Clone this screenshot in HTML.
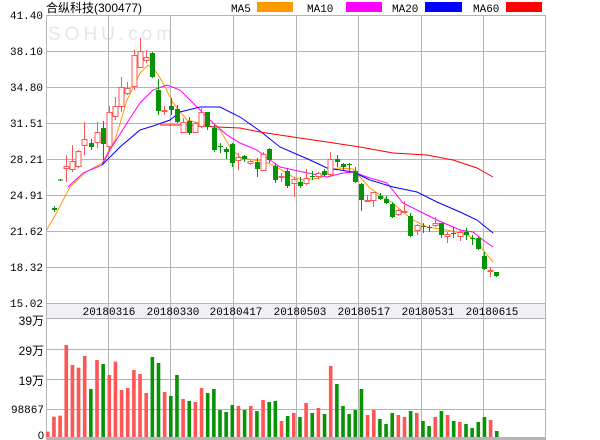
<!DOCTYPE html>
<html><head><meta charset="utf-8"><style>
body{margin:0;background:#fff;}
svg{display:block;font-family:"Liberation Sans","Noto Sans CJK SC",sans-serif;}
</style></head><body>
<svg id="s" width="600" height="440" xmlns="http://www.w3.org/2000/svg">
<rect width="600" height="440" fill="#fff"/>
<text x="28" y="40" font-size="19" fill="#e6e6e6" letter-spacing="4" font-family="Liberation Sans,sans-serif" transform="translate(20,0)">SOHU.com</text>
<rect x="46" y="303" width="500" height="15" fill="#eff1f7"/>
<g id="grid" stroke="#b4b4b4" stroke-width="1" fill="none"></g>
<g font-size="11" fill="#000" text-anchor="end" font-family="Liberation Mono,monospace">
<text x="43" y="19">41.40</text><text x="43" y="55">38.10</text><text x="43" y="91">34.80</text>
<text x="43" y="127">31.51</text><text x="43" y="163">28.21</text><text x="43" y="199">24.91</text>
<text x="43" y="235">21.62</text><text x="43" y="271">18.32</text><text x="43" y="307">15.02</text>
</g>
<g font-size="12" fill="#000" text-anchor="end">
<text x="44" y="325">39万</text><text x="44" y="355">29万</text><text x="44" y="385">19万</text>
<text x="44" y="413" font-size="11" font-family="Liberation Mono,monospace">98867</text><text x="44" y="439" font-size="11">0</text>
</g>
<g font-size="11" fill="#000" text-anchor="middle" font-family="Liberation Mono,monospace">
<text x="109" y="315">20180316</text><text x="173" y="315">20180330</text><text x="236" y="315">20180417</text>
<text x="300" y="315">20180503</text><text x="364" y="315">20180517</text><text x="428" y="315">20180531</text>
<text x="492" y="315">20180615</text>
</g>
<text x="46" y="12" font-size="12" fill="#000">合纵科技(300477)</text>
<g font-size="11" fill="#000" font-family="Liberation Mono,monospace">
<text x="231" y="12">MA5</text><rect x="257" y="2" width="36" height="10" fill="#ff9900"/>
<text x="307" y="12">MA10</text><rect x="346" y="2" width="36" height="10" fill="#ff00ff"/>
<text x="392" y="12">MA20</text><rect x="425" y="2" width="37" height="10" fill="#0000ff"/>
<text x="473" y="12">MA60</text><rect x="506" y="2" width="36" height="10" fill="#ff0000"/>
</g>
<g id="vol"></g>
<g id="ma" fill="none" stroke-width="1"></g>
<g id="k"></g>
</svg>
<script>
var NS="http://www.w3.org/2000/svg";
function el(p,t,a){var e=document.createElementNS(NS,t);for(var k in a)e.setAttribute(k,a[k]);document.getElementById(p).appendChild(e);return e;}
[15,51,87,123,159,195,231,267,303,318,349,379,409].forEach(function(y){el("grid","line",{x1:46,x2:546,y1:y+.5,y2:y+.5});});
[46,108,170,233,296,358,421,483,545].forEach(function(x){el("grid","line",{x1:x+.5,x2:x+.5,y1:15,y2:437});});
el("grid","rect",{x:46,y:437,width:500,height:3,fill:"#b4b4b4",stroke:"none"});
var R="#ff5555",G="#069306";
var vol="R455 R410 R407 R195 R255 R263 R228 G327 R240 G252 R285 R245 R330 R324 R270 R282 R339 G231 G249 R336 G348 G285 R357 G363 R366 R324 G339 G327 G390 G396 G375 R378 G390 R378 G393 R360 G366 G363 R423 G408 R399 G411 R369 G399 R384 G402 R258 G312 G378 G402 G390 G327 R405 R390 G417 G432 G399 R405 R411 G393 R399 G423 G438 R411 G393 R405 G423 R426 G432 G444 G426 G411 R420 G453".split(" ");
vol.forEach(function(v,i){var t=280+(+v.slice(1))/3;el("vol","rect",{x:46+i*6.15,y:t,width:3.6,height:437-t,fill:v[0]=="R"?R:G});});
var K=[null,["G",206,212,208,210],["G",179,181,179.5,180.5],["R",155,182,166,169],["R",145,172,161,170],["R",150,168,151,167],["R",122,155,139,146],["G",139,150,143,147],["R",122,148,132,143],["G",121,160,128,144],["R",106,150,112,147],["R",97,120,106,117],["R",77,112,87,107],["R",82,95,88,94],["R",50,90,55,87],["R",38,68,51,68],["R",50,63,57,61],["G",52,78,53,77],["G",79,115,90,111],["R",106,115,110,111],["G",98,115,106,110],["G",105,123,109,122],["R",118,133,122,133],["G",117,135,121,133],["R",122,133,123,133],["R",108,128,112,127],["G",112,130,112,127],["G",125,152,128,150],["G",143,153,146,147],["G",147,159,149,152],["G",143,167,144,163],["R",153,170,157,161],["G",155,162,156,159],["R",159,165,161,164],["G",158,177,162,169],["R",152,171,154,171],["G",148,163,149,160],["G",163,183,166,180],["R",173,182,176,177],["G",169,188,171,186],["R",177,197,179,184],["G",177,188,182,186],["R",169,185,178,184],["G",171,180,176,177],["R",172,179,173,177],["G",169,176,171,175],["R",152,177,159,175],["G",155,167,159,162],["G",163,170,164,167],["G",163,173,164,165],["G",167,183,171,182],["G",183,211,184,200],["R",195,202,200,201],["R",192,207,192,201],["G",193,200,196,199],["G",196,204,199,203],["G",202,218,204,217],["R",209,216,210,215],["R",201,213,211,213],["G",213,237,216,236],["R",224,235,225,231],["G",223,233,226,227],["G",225,232,227,228],["R",217,227,223,226],["G",223,238,223,235],["R",232,243,234,237],["G",227,238,233,234],["R",229,241,232,237],["G",228,240,232,235],["G",235,245,238,239],["G",237,250,238,249],["G",252,270,256,269],["R",267,277,270,272],["G",272,277,272,276]];
K.forEach(function(c,i){if(!c)return;var x=46.5+i*6.15,cx=Math.round(x)+1.5,col=c[0]=="R"?R:G;
el("k","line",{x1:cx,x2:cx,y1:c[1],y2:c[2],stroke:col});
if(c[0]=="R"){el("k","rect",{x:cx-2.5,y:c[3]+.5,width:5,height:Math.max(1,c[4]-c[3]-1),fill:"#fff",stroke:col});}
else el("k","rect",{x:cx-2.5,y:c[3],width:5,height:Math.max(1,c[4]-c[3]),fill:col});});
function pl(pts,col){el("ma","polyline",{points:pts,stroke:col});}
pl("46.7,230 58,210 70,187 86,172 102,163 115,140 127,100 140,73 148,65 155,70 163,83 173,103 187,120 207,125 220,130 230,147 240,157 253,160 262,161 273,165 293,177 303,180 320,178 337,168 353,169 360,177 370,188 380,195 393,203 403,212 413,220 427,227 447,230 467,235 477,240 483,250 493,262","#ff9900");
pl("68,187 83,173 102,165 110,150 127,123 140,103 153,90 167,85 180,90 197,107 213,123 227,135 240,143 257,150 270,160 280,167 303,172 327,177 343,173 353,172 367,177 387,183 403,203 417,210 437,220 460,230 473,232 483,240 493,247","#ff00ff");
pl("102,165 120,147 140,130 153,126 170,120 180,112 200,107 220,107 240,117 260,131 280,147 310,160 327,168 353,172 370,180 393,187 417,192 437,202 460,212 477,220 493,233","#0000ff");
pl("160,125 190,125 217,127 240,128 260,132 293,137 327,142 360,147 393,153 427,155 453,160 477,168 493,177","#ff0000");
</script>
</body></html>
